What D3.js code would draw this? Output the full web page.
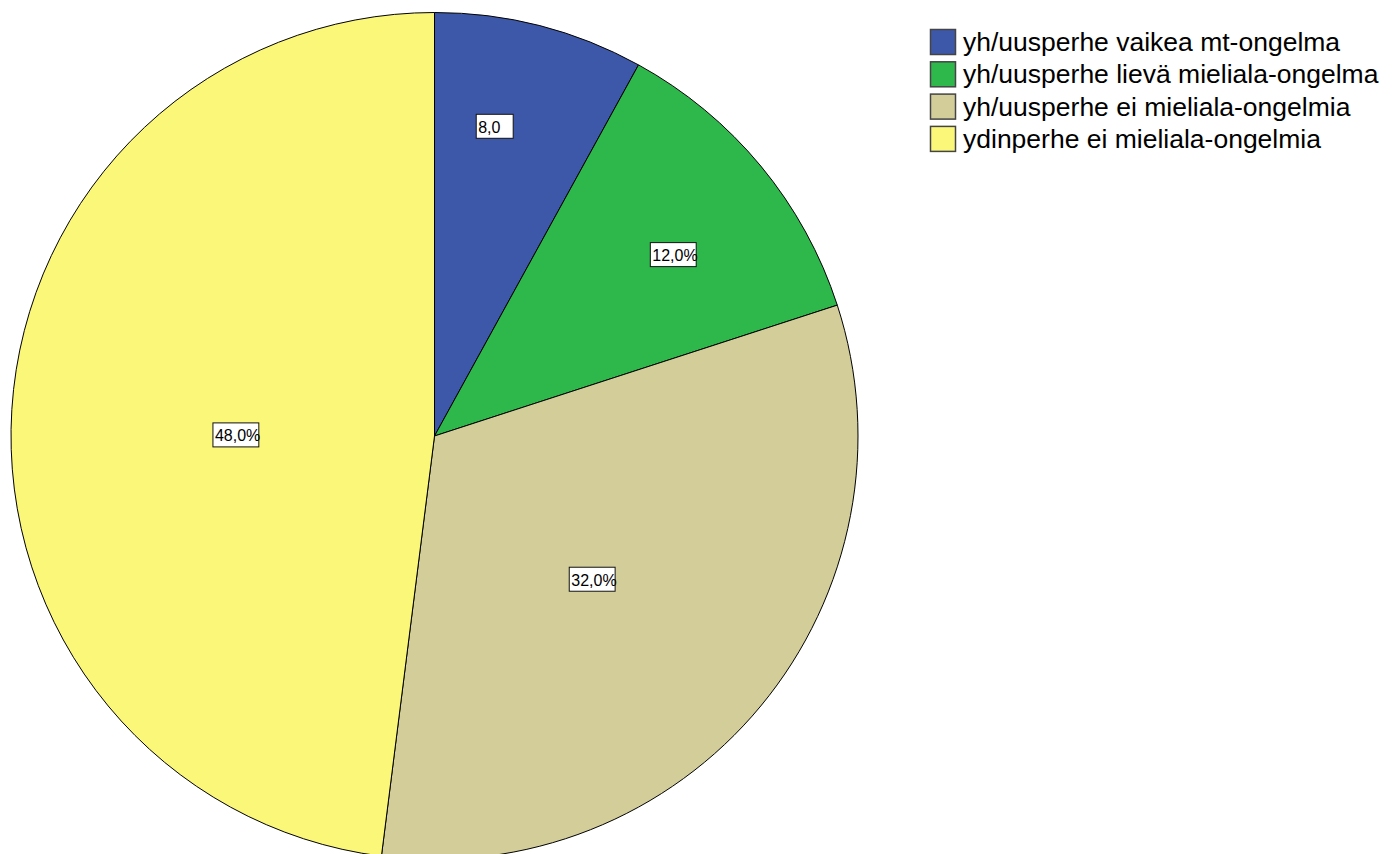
<!DOCTYPE html>
<html>
<head>
<meta charset="utf-8">
<script src="https://cdn.jsdelivr.net/npm/d3@7"></script>
<style>
html,body{margin:0;padding:0;background:#fff;}
svg{display:block;}
text{font-family:Arial,"Liberation Sans",sans-serif;}
</style>
</head>
<body>
<svg id="chart" width="1397" height="854"></svg>
<script>
// Data
const categories = [
  "yh/uusperhe vaikea mt-ongelma",
  "yh/uusperhe lievä mieliala-ongelma",
  "yh/uusperhe ei mieliala-ongelmia",
  "ydinperhe ei mieliala-ongelmia"
];
const percents = [8.0, 12.0, 32.0, 48.0];
const sliceLabels = ["8,0", "12,0%", "32,0%", "48,0%"];
const colors = ["#3d58a8", "#2eb74b", "#d3ce99", "#fbf779"];

// Label placement (fraction of slice angle, fraction of radius)
const labelAngleFrac = [0.382, 0.555, 0.523, 0.481];
const labelRadiusFrac = [0.745, 0.708, 0.503, 0.469];

const svg = d3.select("#chart");
const cx = 434.5, cy = 436, R = 423.5;

const pie = d3.pie().sort(null).value(d => d)(percents);
const arc = d3.arc().innerRadius(0).outerRadius(R);

const g = svg.append("g").attr("transform", `translate(${cx},${cy})`);
g.selectAll("path.slice").data(pie).enter().append("path")
  .attr("class", "slice")
  .attr("d", arc)
  .attr("fill", (d, i) => colors[i])
  .attr("stroke", "#000")
  .attr("stroke-width", 1);

// Labels
const fmt = v => v.toFixed(1).replace(".", ",") + "%";
const lbl = g.selectAll("g.lbl").data(pie).enter().append("g").attr("class", "lbl")
  .attr("transform", (d, i) => {
    const a = d.startAngle + (d.endAngle - d.startAngle) * labelAngleFrac[i];
    const r = R * labelRadiusFrac[i];
    return `translate(${r * Math.sin(a)},${-r * Math.cos(a)})`;
  });
lbl.each(function(d, i) {
  const sel = d3.select(this);
  const meas = sel.append("text").attr("font-size", 16).text(fmt(percents[i]));
  const w = meas.node().getComputedTextLength() + 0.5;
  meas.remove();
  const h = 24;
  sel.append("rect")
    .attr("x", -w / 2).attr("y", -h / 2)
    .attr("width", w).attr("height", h)
    .attr("fill", "#fff").attr("stroke", "#111").attr("stroke-width", 1);
  sel.append("text")
    .attr("x", -w / 2 + 2).attr("y", 6.5)
    .attr("font-size", 16).attr("fill", "#000")
    .text(sliceLabels[i]);
});

// Legend
const legend = svg.append("g").attr("transform", "translate(930,29)");
const rowH = 32.3, sq = 26;
const items = legend.selectAll("g.item").data(categories).enter().append("g")
  .attr("class", "item")
  .attr("transform", (d, i) => `translate(0,${i * rowH})`);
items.append("rect")
  .attr("x", 0.5).attr("y", 0.5).attr("width", sq - 1).attr("height", sq - 1)
  .attr("fill", (d, i) => colors[i])
  .attr("stroke", "#444").attr("stroke-width", 1.5);
items.append("text")
  .attr("x", 33).attr("y", 22)
  .attr("font-size", 26.5).attr("fill", "#000")
  .text(d => d);
</script>
</body>
</html>
